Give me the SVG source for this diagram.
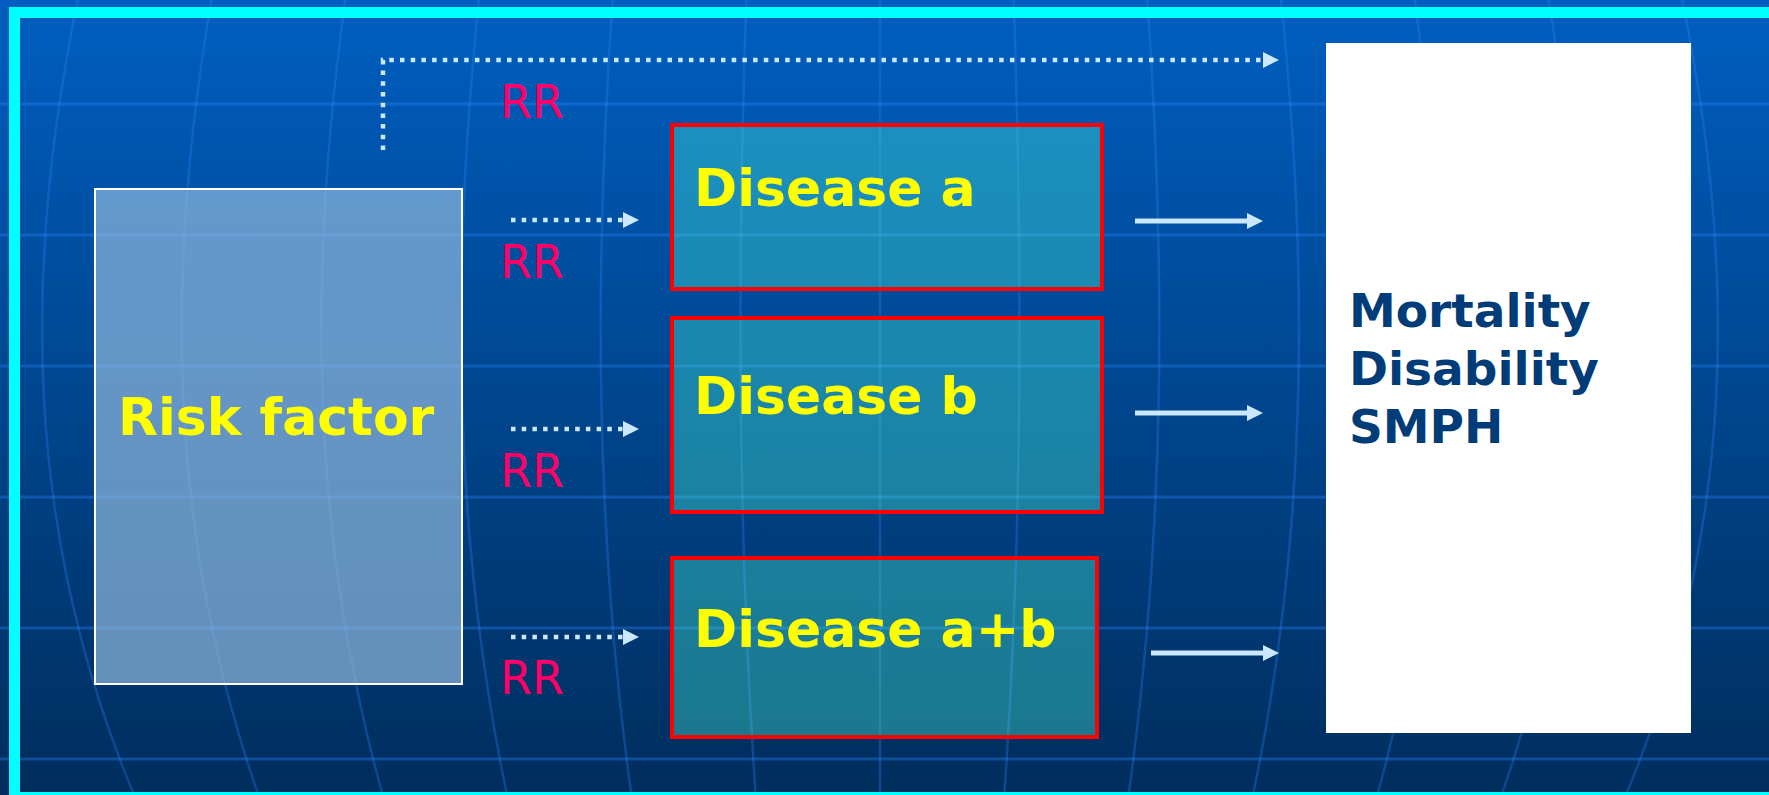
<svg xmlns="http://www.w3.org/2000/svg" width="1769" height="795" viewBox="0 0 1769 795">
<style>
.grid{fill:none;stroke:#2a86ff;stroke-opacity:0.35;stroke-width:3}
.mer{fill:none;stroke:#2a86ff;stroke-opacity:0.3;stroke-width:2.5}
.dis{fill:rgb(74,247,218);fill-opacity:0.36;stroke:#ff0000;stroke-width:4}
.lbl{font-family:"DejaVu Sans",Verdana,sans-serif;font-weight:bold;font-size:52px;fill:#ffff00}
.out{font-family:"DejaVu Sans",Verdana,sans-serif;font-weight:bold;font-size:47px;fill:#003c78}
.rr{font-family:"DejaVu Sans",Verdana,sans-serif;font-size:46px;fill:#ff0066}
.dot{fill:none;stroke:#cce8ff;stroke-width:4.5;stroke-dasharray:4.5 6.2}
.sol{fill:none;stroke:#cce8ff;stroke-width:5}
</style>
<defs>
<linearGradient id="bg" x1="0" y1="0" x2="0" y2="1">
<stop offset="0" stop-color="#005ec0"/>
<stop offset="1" stop-color="#002d5c"/>
</linearGradient>
<marker id="ah" viewBox="0 0 16 16" markerWidth="16" markerHeight="16" refX="0" refY="8" orient="auto" markerUnits="userSpaceOnUse">
<path d="M0,0 L16,8 L0,16 Z" fill="#cce8ff"/>
</marker>
</defs>
<rect x="0" y="0" width="1769" height="795" fill="url(#bg)"/>
<g id="grid">
<path class="grid" d="M0,104H1769M0,235H1769M0,366H1769M0,497H1769M0,628H1769M0,759H1769"/>
<path class="mer" d="M77.8,0C23.2,265 23.2,530 134.1,795"/>
<path class="mer" d="M211.5,0C166,265 166,530 258.4,795"/>
<path class="mer" d="M345.2,0C308.8,265 308.8,530 382.7,795"/>
<path class="mer" d="M478.9,0C451.6,265 451.6,530 507,795"/>
<path class="mer" d="M612.6,0C594.4,265 594.4,530 631.4,795"/>
<path class="mer" d="M746.3,0C737.2,265 737.2,530 755.7,795"/>
<path class="mer" d="M880,0V795"/>
<path class="mer" d="M1013.7,0C1022.8,265 1022.8,530 1004.3,795"/>
<path class="mer" d="M1147.4,0C1165.6,265 1165.6,530 1128.6,795"/>
<path class="mer" d="M1281.1,0C1308.4,265 1308.4,530 1253,795"/>
<path class="mer" d="M1414.8,0C1451.2,265 1451.2,530 1377.3,795"/>
<path class="mer" d="M1548.5,0C1594,265 1594,530 1501.6,795"/>
<path class="mer" d="M1682.2,0C1736.8,265 1736.8,530 1625.9,795"/>
</g>
<g id="risk-factor">
<rect x="95" y="189" width="367" height="495" fill="rgb(147,187,223)" fill-opacity="0.68" stroke="#ffffff" stroke-width="2"/>
<text class="lbl" x="118" y="435">Risk factor</text>
</g>
<g id="disease-a">
<rect class="dis" x="672" y="125" width="430" height="164"/>
<text class="lbl" x="694" y="206">Disease a</text>
</g>
<g id="disease-b">
<rect class="dis" x="672" y="318" width="430" height="194"/>
<text class="lbl" x="694" y="414">Disease b</text>
</g>
<g id="disease-ab">
<rect class="dis" x="672" y="558" width="425" height="179"/>
<text class="lbl" x="694" y="647">Disease a+b</text>
</g>
<g id="outcomes">
<rect x="1326" y="43" width="365" height="690" fill="#ffffff"/>
<text class="out" x="1349" y="327">Mortality</text>
<text class="out" x="1349" y="385">Disability</text>
<text class="out" x="1349" y="443">SMPH</text>
</g>
<g id="connectors">
<path class="dot" d="M383,150V60H1263" marker-end="url(#ah)"/>
<path class="dot" d="M511,220H623" marker-end="url(#ah)"/>
<path class="dot" d="M511,429H623" marker-end="url(#ah)"/>
<path class="dot" d="M511,637H623" marker-end="url(#ah)"/>
<path class="sol" d="M1135,221H1247" marker-end="url(#ah)"/>
<path class="sol" d="M1135,413H1247" marker-end="url(#ah)"/>
<path class="sol" d="M1151,653H1263" marker-end="url(#ah)"/>
<text class="rr" x="500" y="118">RR</text>
<text class="rr" x="500" y="278">RR</text>
<text class="rr" x="500" y="487">RR</text>
<text class="rr" x="500" y="694">RR</text>
</g>
<g id="frame" fill="#00ffff">
<rect x="9" y="7" width="1760" height="11"/>
<rect x="9" y="7" width="11" height="788"/>
<rect x="9" y="792" width="1760" height="3"/>
</g>
</svg>
